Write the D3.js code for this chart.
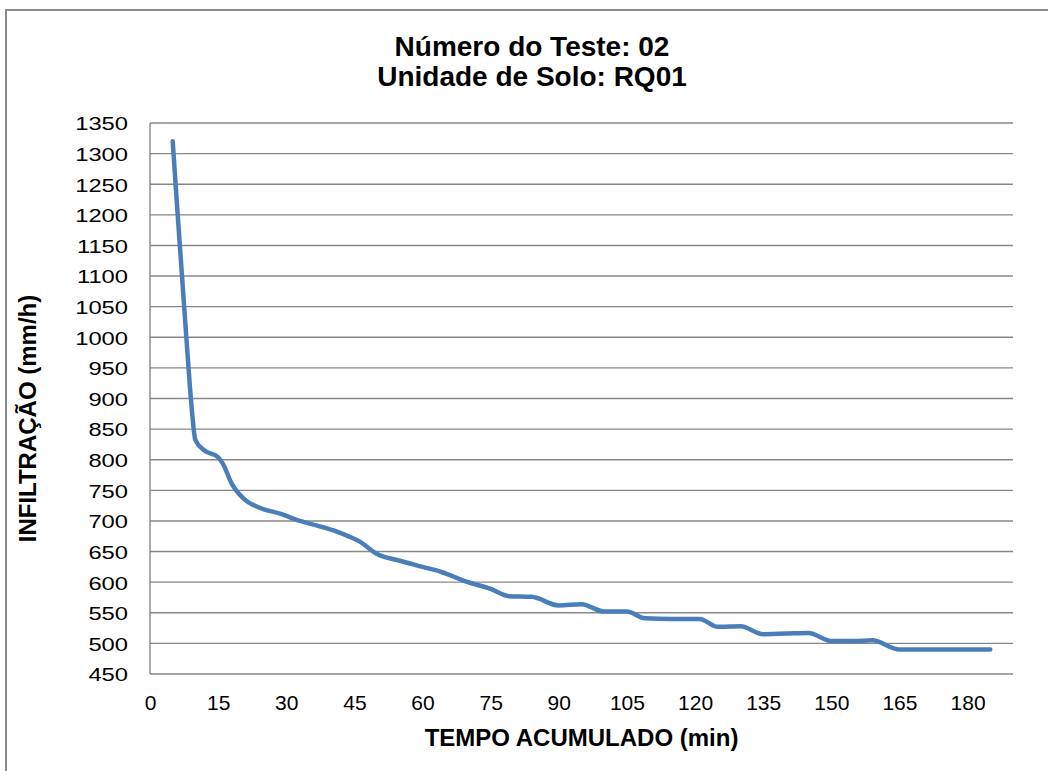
<!DOCTYPE html>
<html>
<head>
<meta charset="utf-8">
<script src="https://cdn.jsdelivr.net/npm/d3@7"></script>
<style>
  html, body { margin: 0; padding: 0; background: #fff; }
  svg { display: block; font-family: 'Liberation Sans', Arial, sans-serif; }
</style>
</head>
<body>
<div id="chart"></div>
<script>
const titleLines = ['Número do Teste: 02', 'Unidade de Solo: RQ01'];
const xLabel = 'TEMPO ACUMULADO (min)';
const yLabel = 'INFILTRAÇÃO (mm/h)';

// tempo acumulado (min)
const tempo = [5, 6, 7, 8, 9, 10, 12, 15, 16, 18, 21, 24, 29, 33, 37, 41, 44, 46, 50, 55,
  60, 64, 70, 75, 79, 84, 90, 95, 100, 105, 109, 115, 121, 125, 130, 135, 140, 145, 150,
  155, 159, 165, 170, 175, 180, 185];
// infiltração (mm/h)
const infiltracao = [1320, 1210, 1105, 1000, 900, 832, 815, 804, 794, 761, 734, 722, 711, 700,
  692, 683, 674, 667, 646, 635, 625, 617, 600, 589, 577, 576, 562, 564, 552, 552, 541, 540,
  540, 527, 528, 515, 516, 517, 504, 504, 505, 490, 490, 490, 490, 490];

const xTicks = [0, 15, 30, 45, 60, 75, 90, 105, 120, 135, 150, 165, 180];
const yTicks = [450, 500, 550, 600, 650, 700, 750, 800, 850, 900, 950, 1000, 1050, 1100,
  1150, 1200, 1250, 1300, 1350];

const W = 1048, H = 771;
const plot = { left: 150, right: 1013, top: 123, bottom: 674 };

const svg = d3.select('#chart').append('svg')
  .attr('width', W)
  .attr('height', H);

// outer chart frame (left and top edges visible)
svg.append('path')
  .attr('d', `M6,${H} V10 H${W}`)
  .attr('fill', 'none')
  .attr('stroke', '#8a8a8a')
  .attr('stroke-width', 2);

const x = d3.scaleLinear().domain([0, 190]).range([plot.left, plot.right]);
const y = d3.scaleLinear().domain([450, 1350]).range([plot.bottom, plot.top]);

// gridlines
svg.append('g')
  .selectAll('line')
  .data(yTicks)
  .join('line')
  .attr('x1', plot.left)
  .attr('x2', plot.right)
  .attr('y1', d => y(d))
  .attr('y2', d => y(d))
  .attr('stroke', '#878787')
  .attr('stroke-width', 1.4);

// left axis line
svg.append('line')
  .attr('x1', plot.left).attr('x2', plot.left)
  .attr('y1', plot.top).attr('y2', plot.bottom)
  .attr('stroke', '#878787')
  .attr('stroke-width', 1.4);

// y axis labels
const yAxis = svg.append('g')
  .attr('transform', `translate(${plot.left},0)`)
  .call(d3.axisLeft(y).tickValues(yTicks).tickFormat(d => String(d)).tickSize(0).tickPadding(0));
yAxis.select('.domain').remove();
yAxis.selectAll('text')
  .attr('x', -22 / 1.25)
  .attr('dy', '0.36em')
  .attr('transform', 'scale(1.25,1)')
  .attr('fill', '#000')
  .style('font-size', '19px')
  .style('font-family', "'Liberation Sans', Arial, sans-serif");

// x axis labels
const xAxis = svg.append('g')
  .attr('transform', `translate(0,${plot.bottom})`)
  .call(d3.axisBottom(x).tickValues(xTicks).tickFormat(d => String(d)).tickSize(0).tickPadding(0));
xAxis.select('.domain').remove();
xAxis.selectAll('text')
  .attr('y', 36)
  .attr('dy', 0)
  .attr('fill', '#000')
  .style('font-size', '21px')
  .style('font-family', "'Liberation Sans', Arial, sans-serif");

// data line
const line = d3.line()
  .x((d, i) => x(tempo[i]))
  .y(d => y(d))
  .curve(d3.curveMonotoneX);

svg.append('path')
  .datum(infiltracao)
  .attr('d', line)
  .attr('fill', 'none')
  .attr('stroke', '#4a7ebb')
  .attr('stroke-width', 4.5)
  .attr('stroke-linecap', 'round')
  .attr('stroke-linejoin', 'round');

// title
svg.append('text')
  .attr('x', 532)
  .attr('text-anchor', 'middle')
  .style('font-size', '28px')
  .style('font-weight', 'bold')
  .selectAll('tspan')
  .data(titleLines)
  .join('tspan')
  .attr('x', 532)
  .attr('y', (d, i) => 56 + i * 30)
  .text(d => d);

// axis titles
svg.append('text')
  .attr('x', (plot.left + plot.right) / 2)
  .attr('y', 746)
  .attr('text-anchor', 'middle')
  .style('font-size', '24px')
  .style('font-weight', 'bold')
  .text(xLabel);

svg.append('text')
  .attr('transform', `translate(36,${(plot.top + plot.bottom) / 2 + 20}) rotate(-90)`)
  .attr('text-anchor', 'middle')
  .style('font-size', '24px')
  .style('font-weight', 'bold')
  .text(yLabel);
</script>
</body>
</html>
